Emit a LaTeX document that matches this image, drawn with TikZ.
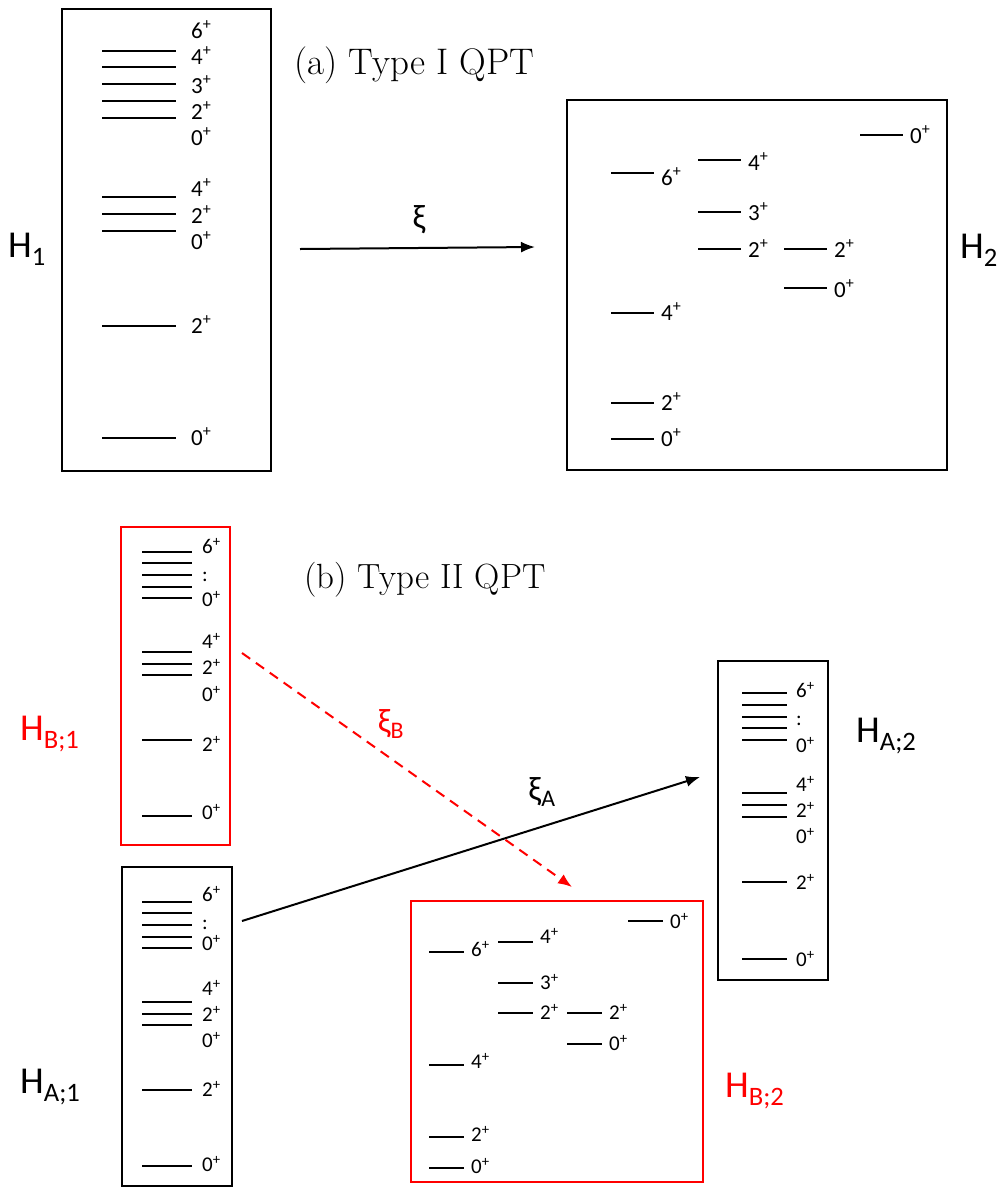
\documentclass[tikz,border=0pt]{standalone}
\usepackage{fontspec}
\newfontfamily\lblfont{Carlito}
\usetikzlibrary{arrows.meta}
\definecolor{qred}{RGB}{255,0,0}
\begin{document}
\begin{tikzpicture}[x=1pt,y=-1pt,
  box/.style={draw=black, line width=2.5pt, inner sep=0pt, outer sep=0pt},
  redbox/.style={box, draw=qred, line width=2.8pt},
  lvl/.style={line width=1.1pt},
  lvlthick/.style={line width=1.4pt},
  tag/.style={font=\lblfont\fontsize{23}{26}\selectfont, anchor=base west, inner sep=0pt, yshift=-7.2pt},
  tagsm/.style={font=\lblfont\fontsize{21}{24}\selectfont, anchor=base west, inner sep=0pt, yshift=-6.6pt},
  ham/.style={font=\lblfont\fontsize{38}{44}\selectfont, anchor=base west, inner sep=0pt},
  parlab/.style={font=\lblfont\fontsize{34}{38}\selectfont, inner sep=0pt},
  title/.style={anchor=west, inner sep=0pt},
  flow/.style={line width=2pt, -{Latex[length=14pt,width=11pt]}},
  redflow/.style={flow, draw=qred, color=qred, dash pattern=on 10pt off 7pt}
]
\useasboundingbox (0,0) rectangle (1002,1187);

% ---------- (a) Type I QPT ----------
\node[title, font=\fontsize{37}{44}\selectfont] (ta) at (294,65) {(a) Type I QPT};

\node[box, minimum width=209pt, minimum height=462pt] (H1box) at (166.5,240) {};
\node[box, minimum width=380pt, minimum height=370pt] (H2box) at (757,285) {};

\node[ham] (H1) at (8,257) {H\textsubscript{1}};
\node[ham] (H2) at (960,258) {H\textsubscript{2}};

% spectrum of H1
\foreach \y in {51,67,84,101,118,197,214,231,326,438}
  \draw[lvlthick] (102,\y) -- (176,\y);
\foreach \t/\y [count=\i] in {6/31,4/57,3/86,2/112,0/138,4/189,2/216,0/242,2/326,0/438}
  \node[tag] (ha\i) at (191,\y) {\t\textsuperscript{+}};

% spectrum of H2
\foreach \x/\y/\t/\ly [count=\i] in {611/173/6/178, 698/160/4/163, 698/212/3/213,
    698/249/2/250, 784/249/2/250, 784/288/0/290, 860/135/0/136,
    611/313/4/313, 611/403/2/403, 611/439/0/439}{
  \draw[lvl] (\x,\y) -- (\x+43,\y);
  \node[tag] (hb\i) at (\x+50,\ly) {\t\textsuperscript{+}};
}

\coordinate (xiS) at (300,249);
\coordinate (xiE) at (535,247);
\draw[flow] (xiS) -- (xiE);
\node[parlab] (xi) at (419,220) {ξ};

% ---------- (b) Type II QPT ----------
\node[title, font=\fontsize{35}{42}\selectfont] (tb) at (304,580) {(b) Type II QPT};

\node[redbox, minimum width=109pt, minimum height=318pt] (HB1box) at (175.5,686) {};
\node[box, minimum width=110pt, minimum height=319pt] (HA1box) at (177,1026.5) {};
\node[box, minimum width=110pt, minimum height=319pt] (HA2box) at (773,820.5) {};
\node[redbox, minimum width=292pt, minimum height=281pt] (HB2box) at (557,1041.5) {};

\node[ham, text=qred] (HB1) at (20,740) {H\textsubscript{B;1}};
\node[ham] (HA1) at (20,1093) {H\textsubscript{A;1}};
\node[ham] (HA2) at (856,742) {H\textsubscript{A;2}};
\node[ham, text=qred] (HB2) at (725,1097) {H\textsubscript{B;2}};

% spectrum of H_B;1
\foreach \y in {552,563,575,587,598,652,664,675,740,816}
  \draw[lvl] (142,\y) -- (192,\y);
\foreach \t/\y [count=\i] in {6/547,0/600,4/642,2/668,0/695,2/745,0/813}
  \node[tagsm] (hc\i) at (202,\y) {\t\textsuperscript{+}};
\node[tagsm] (hcdots) at (202,575) {:};

% spectrum of H_A;1
\foreach \y in {902,913,925,937,948,1002,1014,1025,1090,1166}
  \draw[lvl] (142,\y) -- (192,\y);
\foreach \t/\y [count=\i] in {6/895,0/944,4/989,2/1015,0/1041,2/1090,0/1165}
  \node[tagsm] (hd\i) at (202,\y) {\t\textsuperscript{+}};
\node[tagsm] (hddots) at (202,923) {:};

% spectrum of H_A;2
\foreach \y in {693,705,717,728,740,793,805,817,882,959}
  \draw[lvl] (742,\y) -- (787,\y);
\foreach \t/\y [count=\i] in {6/691,0/746,4/785,2/811,0/837,2/883,0/960}
  \node[tagsm] (he\i) at (796,\y) {\t\textsuperscript{+}};
\node[tagsm] (hedots) at (796,719) {:};

% spectrum of H_B;2
\foreach \x/\y/\t/\ly [count=\i] in {429/952/6/950, 498/942/4/937, 498/983/3/983,
    498/1013/2/1013, 567/1013/2/1013, 567/1044/0/1044, 628/921/0/922,
    429/1065/4/1062, 429/1137/2/1135, 429/1168/0/1167}{
  \draw[lvl] (\x,\y) -- (\x+35,\y);
  \node[tagsm] (hf\i) at (\x+42,\ly) {\t\textsuperscript{+}};
}

% transitions
\coordinate (xiBS) at (242,653);
\coordinate (xiBE) at (572,887);
\coordinate (xiAS) at (242,921);
\coordinate (xiAE) at (700,777);
\draw[redflow] (xiBS) -- (xiBE);
\draw[flow] (xiAS) -- (xiAE);
\node[parlab, text=qred] (xiB) at (391,724) {ξ\textsubscript{B}};
\node[parlab] (xiA) at (542,792) {ξ\textsubscript{A}};
\end{tikzpicture}
\end{document}
